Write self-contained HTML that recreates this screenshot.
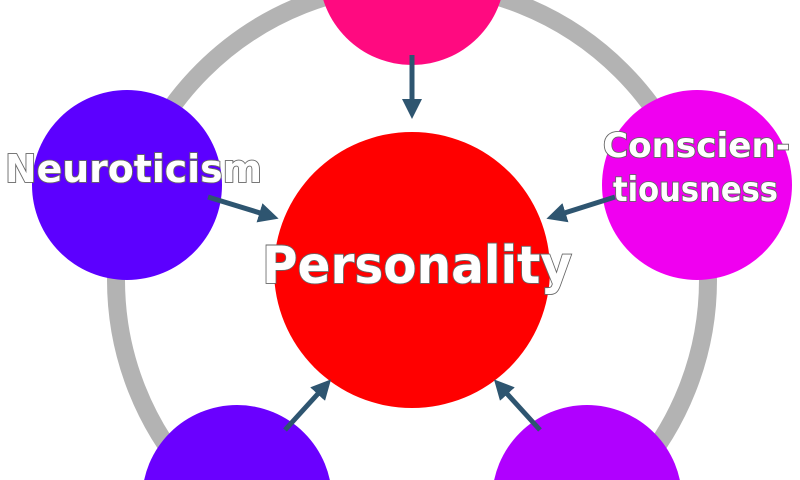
<!DOCTYPE html>
<html><head><meta charset="utf-8"><style>
html,body{margin:0;padding:0;background:#fff;width:800px;height:480px;overflow:hidden}
svg{display:block}
text{font-family:"DejaVu Sans","Liberation Sans",sans-serif;font-weight:bold;fill:#fff;stroke:#666;stroke-width:1.8;paint-order:stroke}
</style></head><body>
<svg width="800" height="480" viewBox="0 0 800 480" xmlns="http://www.w3.org/2000/svg">
<defs>
<marker id="a" markerWidth="4" markerHeight="4" refX="2.2" refY="2" orient="auto" markerUnits="strokeWidth">
<path d="M0,0 L4,2 L0,4 Z" fill="#2e5570"/></marker>
</defs>
<circle cx="412" cy="280" r="296" fill="none" stroke="#b3b3b3" stroke-width="18"/>
<circle cx="412" cy="-28" r="93" fill="#ff0a80"/>
<circle cx="127" cy="185" r="95" fill="#5c00ff"/>
<circle cx="697" cy="185" r="95" fill="#f000f0"/>
<circle cx="237" cy="500" r="95" fill="#6a00ff"/>
<circle cx="587" cy="500" r="95" fill="#b000ff"/>
<circle cx="412" cy="270" r="138" fill="#ff0000"/>
<g stroke="#2e5570" stroke-width="5" marker-end="url(#a)">
<line x1="412" y1="55" x2="412" y2="110"/>
<line x1="208" y1="197" x2="270" y2="216"/>
<line x1="615" y1="197" x2="555" y2="216"/>
<line x1="285" y1="430" x2="325" y2="386"/>
<line x1="540" y1="430" x2="500" y2="386"/>
</g>
<text x="5" y="182" font-size="38" textLength="257" lengthAdjust="spacingAndGlyphs">Neuroticism</text>
<text x="262" y="283" font-size="52" textLength="310" lengthAdjust="spacingAndGlyphs">Personality</text>
<text x="603" y="157" font-size="34" textLength="187" lengthAdjust="spacingAndGlyphs">Conscien-</text>
<text x="613" y="201" font-size="34" textLength="165" lengthAdjust="spacingAndGlyphs">tiousness</text>
</svg>
</body></html>
